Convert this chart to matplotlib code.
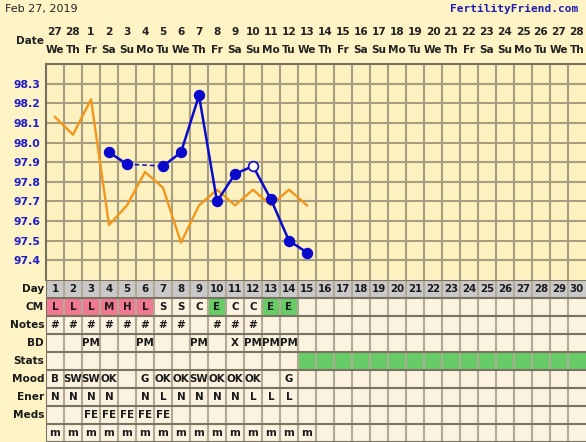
import matplotlib
matplotlib.use('Agg')
import matplotlib.pyplot as plt
import matplotlib.transforms as mtransforms
import numpy as np

# columnas del ciclo
days = list(range(1, 31))
dates = ['27', '28', '1', '2', '3', '4', '5', '6', '7', '8', '9', '10', '11', '12', '13',
         '14', '15', '16', '17', '18', '19', '20', '21', '22', '23', '24', '25', '26', '27', '28']
weekdays = ['We', 'Th', 'Fr', 'Sa', 'Su', 'Mo', 'Tu', 'We', 'Th', 'Fr', 'Sa', 'Su', 'Mo', 'Tu', 'We',
            'Th', 'Fr', 'Sa', 'Su', 'Mo', 'Tu', 'We', 'Th', 'Fr', 'Sa', 'Su', 'Mo', 'Tu', 'We', 'Th']

# temperaturas
temp_days = [4, 5, 7, 8, 9, 10, 11, 12, 13, 14, 15]
temps = [97.95, 97.89, 97.88, 97.95, 98.24, 97.70, 97.84, 97.88, 97.71, 97.50, 97.44]
open_day = 12
prev_days = list(range(1, 16))
prev_temps = [98.13, 98.04, 98.22, 97.58, 97.68, 97.85, 97.77, 97.49, 97.68, 97.76,
              97.68, 97.76, 97.68, 97.76, 97.68]
temp_labels = ['98.3', '98.2', '98.1', '98.0', '97.9', '97.8', '97.7', '97.6', '97.5', '97.4']

# filas de la tabla
row_names = ['Day', 'CM', 'Notes', 'BD', 'Stats', 'Mood', 'Ener', 'Meds', '']
cm = ['L', 'L', 'L', 'M', 'H', 'L', 'S', 'S', 'C', 'E', 'C', 'C', 'E', 'E']
notes = ['#', '#', '#', '#', '#', '#', '#', '#', '', '#', '#', '#']
bd = ['', '', 'PM', '', '', 'PM', '', '', 'PM', '', 'X', 'PM', 'PM', 'PM']
mood = ['B', 'SW', 'SW', 'OK', '', 'G', 'OK', 'OK', 'SW', 'OK', 'OK', 'OK', '', 'G']
ener = ['N', 'N', 'N', 'N', '', 'N', 'L', 'N', 'N', 'N', 'N', 'L', 'L', 'L']
meds = ['', '', 'FE', 'FE', 'FE', 'FE', 'FE']
mens = ['m'] * 15
stats_start = 15

BG = '#FDF3C5'
CELL = '#FBF2DF'
PINK = '#F27891'
GREEN = '#66CC66'
W, H = 586, 442
FS = 7.6

fig = plt.figure(figsize=(W / 100, H / 100), dpi=100, facecolor=BG)
plt.rcParams['font.family'] = ['DejaVu Sans']

# --- grafica de temperatura ---
ax = fig.add_axes([46 / W, (H - 280) / H, 540 / W, 216 / H])
ax.set_facecolor('#FCF1BF')
ax.set_xlim(0.5, 30.5)
ax.set_ylim(97.3, 98.4)
ax.vlines(np.arange(1.5, 30.5, 1), 97.3, 98.4, color='#A79D7F', lw=1.5, zorder=1)
ax.hlines(np.arange(97.4, 98.35, 0.1), 0.5, 30.5, color='#A79D7F', lw=1.5, zorder=1)
for s in ['right', 'bottom']:
    ax.spines[s].set_visible(False)
for s in ['left', 'top']:
    ax.spines[s].set_color('#77705E')
    ax.spines[s].set_linewidth(1.5)
ax.set_xticks([])
ax.set_yticks([float(t) for t in temp_labels])
ax.set_yticklabels(temp_labels, color='#1E1ECC', fontweight='bold', fontsize=FS + 0.2)
ax.tick_params(axis='y', length=0, pad=4)

ax.plot(prev_days, prev_temps, color='#F2961C', lw=1.7, zorder=2)
ax.plot(temp_days[:2], temps[:2], color='#0A0ACC', lw=1.8, zorder=3)
ax.plot(temp_days[1:3], temps[1:3], color='#0A0ACC', lw=1.1, ls=(0, (3, 2)), zorder=3)
ax.plot(temp_days[2:], temps[2:], color='#0A0ACC', lw=1.8, zorder=3)
for d, t in zip(temp_days, temps):
    fc = 'white' if d == open_day else '#0A0ACC'
    ax.plot(d, t, 'o', ms=7, mfc=fc, mec='#0A0ACC', mew=1.2, zorder=4)

# encabezado de fechas
tr = mtransforms.blended_transform_factory(ax.transData, fig.transFigure)
for d, dt, wd in zip(days, dates, weekdays):
    ax.text(d, 1 - 32 / H, dt, transform=tr, ha='center', va='center',
            fontsize=FS, fontweight='bold', color='#222222')
    ax.text(d, 1 - 50 / H, wd, transform=tr, ha='center', va='center',
            fontsize=FS, fontweight='bold', color='#222222')
fig.text(44 / W, 1 - 41 / H, 'Date', ha='right', va='center', fontsize=FS,
         fontweight='bold', color='#222222')
fig.text(5 / W, 1 - 9 / H, 'Feb 27, 2019', ha='left', va='center', fontsize=8,
         color='#222222')
fig.text(578 / W, 1 - 9 / H, 'FertilityFriend.com', ha='right', va='center', fontsize=8,
         fontweight='bold', color='#1C1CB0', family='DejaVu Sans Mono')

# --- tabla ---
tb = fig.add_axes([46 / W, 0, 540 / W, 162 / H])
tb.set_xlim(0.5, 30.5)
tb.set_ylim(9, 0)
tb.axis('off')

def fill_row(r, colors):
    tb.bar(days, 1, bottom=r, width=1, color=colors, linewidth=0, zorder=1)

fill_row(0, ['#C9C9C9'] * 30)
cm_colors = []
for i in range(30):
    v = cm[i] if i < len(cm) else ''
    cm_colors.append(PINK if v in ('L', 'M', 'H') else GREEN if v == 'E' else CELL)
fill_row(1, cm_colors)
for r in [2, 3, 5, 6, 7, 8]:
    fill_row(r, [CELL] * 30)
fill_row(4, [GREEN if d >= stats_start else CELL for d in days])

tb.vlines(np.arange(1.5, 30.5, 1), 0, 9, color='#B2AA96', lw=1.5, zorder=2)
tb.vlines([0.5], 0, 9, color='#77705E', lw=1.5, zorder=3)
tb.hlines(np.arange(0, 10, 1), 0.5, 30.5, color='#7A7363', lw=1.5, zorder=3)

rows = [[str(d) for d in days], cm, notes, bd, [], mood, ener, meds, mens]
for r, vals in enumerate(rows):
    for i, v in enumerate(vals):
        if v:
            tb.text(days[i], r + 0.52, v, ha='center', va='center', fontsize=FS - 0.2,
                    fontweight='bold', color='#1A1A1A', zorder=4)

tr2 = mtransforms.blended_transform_factory(fig.transFigure, tb.transData)
for r, name in enumerate(row_names):
    tb.text(44 / W, r + 0.52, name, transform=tr2, ha='right', va='center',
            fontsize=FS, fontweight='bold', color='#1A1A1A')

fig.savefig('out.png', dpi=100, facecolor=BG)
